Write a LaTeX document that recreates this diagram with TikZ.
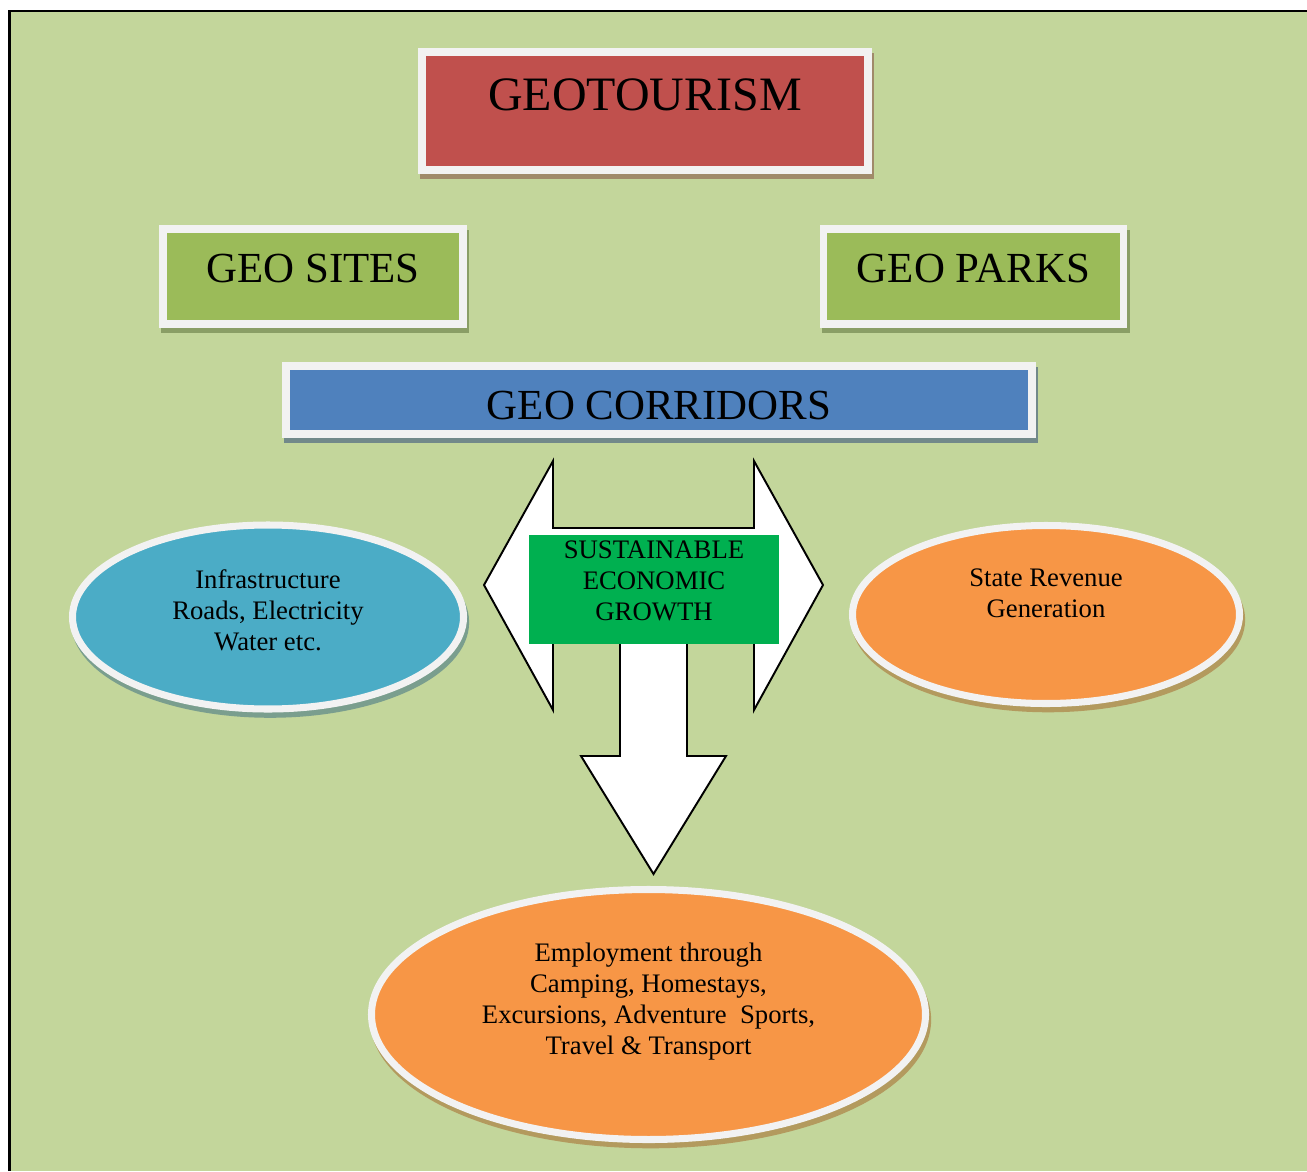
\documentclass[tikz,border=0pt]{standalone}
\usepackage{fontspec}
\setmainfont{Liberation Serif}
\usetikzlibrary{shapes,shadows,positioning}
\definecolor{bg}{HTML}{C3D69B}
\definecolor{rim}{HTML}{F2F2F2}
\definecolor{redbox}{HTML}{C0504D}
\definecolor{olive}{HTML}{9BBB59}
\definecolor{bluebox}{HTML}{4F81BD}
\definecolor{growthgreen}{HTML}{00B050}
\definecolor{aqua}{HTML}{4BACC6}
\definecolor{orng}{HTML}{F79646}
\definecolor{redsh}{HTML}{A08A6A}
\definecolor{olivesh}{HTML}{8A9E66}
\definecolor{bluesh}{HTML}{72898A}
\definecolor{aquash}{HTML}{7A9E8E}
\definecolor{orngsh}{HTML}{B39A5E}
\tikzset{
  panel/.style 2 args = { rectangle, draw=rim, line width=4.5pt, fill=#1, inner sep=0pt,
    drop shadow={shadow xshift=1.2pt, shadow yshift=-2.6pt, fill=#2, draw=#2, line width=4.5pt, opacity=1} },
  ring/.style 2 args  = { ellipse, draw=rim, line width=4pt, fill=#1, inner sep=0pt,
    drop shadow={shadow xshift=1.2pt, shadow yshift=-3pt, fill=#2, draw=#2, line width=4pt, opacity=1} },
  big/.style  = { font=\fontsize{24.4}{28}\selectfont },
  txt/.style  = { align=center, font=\fontsize{15.2}{17.6}\selectfont },
  blk/.style  = { draw=black, fill=white, line width=1.1pt, line join=miter }
}
\begin{document}
\begin{tikzpicture}[x=0.2mm,y=-0.2mm,on grid]
      \useasboundingbox (0,0) rectangle (1307,1171);
      \fill[bg] (9.5,11) rectangle (1307,1171);
      \draw[line width=1.4pt] (9.5,1171) -- (9.5,11) -- (1307,11);
      % top row
      \node[panel={redbox}{redsh}, minimum width=8.92cm, minimum height=2.36cm,
        font=\fontsize{27.3}{32}\selectfont, text height=0.35cm, text depth=0.35cm] (tour) at (645,111) {GEOTOURISM};
      \node[panel={olive}{olivesh}, big, minimum width=6cm, minimum height=1.9cm,
        text height=0.45cm, text depth=0.21cm] (sites) at (313,276.5) {GEO SITES};
      \node[panel={olive}{olivesh}, big, minimum width=6cm, minimum height=1.9cm,
        text height=0.45cm, text depth=0.21cm, right=13.21cm of sites] (parks) {GEO PARKS};
      \node[panel={bluebox}{bluesh}, big, minimum width=14.92cm, minimum height=1.36cm,
        text height=0.76cm, text depth=0pt] (corr) at (659,400) {GEO CORRIDORS};
      % ellipses
      \node[ring={aqua}{aquash}, minimum width=7.82cm, minimum height=3.68cm,
        label={[txt, yshift=0.14cm]center:{Infrastructure\\Roads, Electricity\\Water etc.}}] (infra) at (268,617) {};
      \node[ring={orng}{orngsh}, minimum width=7.74cm, minimum height=3.56cm,
        label={[txt, yshift=0.42cm]center:{State Revenue\\Generation}}] (revenue) at (1046,614.5) {};
      \node[ring={orng}{orngsh}, minimum width=11.08cm, minimum height=5cm,
        label={[txt, yshift=0.26cm]center:{Employment through\\Camping, Homestays,\\Excursions, Adventure\ \ Sports,\\Travel \& Transport}}] (jobs) at (648.5,1014.5) {};
      % block arrows
      \path[blk] (484,585) -- (553,461) -- (553,528) -- (754,528) -- (754,461) -- (823,585)
        -- (754,710) -- (754,642) -- (553,642) -- (553,710) -- cycle;
      \path[blk] (620,640) -- (620,756) -- (581,756) -- (653.5,874) -- (726,756) -- (687,756) -- (687,640);
      \node[fill=growthgreen, minimum width=5cm, minimum height=2.18cm, inner sep=0pt,
        label={[txt, yshift=0.17cm]center:{SUSTAINABLE\\ECONOMIC\\GROWTH}}] (growth) at (654,589.5) {};
\end{tikzpicture}
\end{document}
